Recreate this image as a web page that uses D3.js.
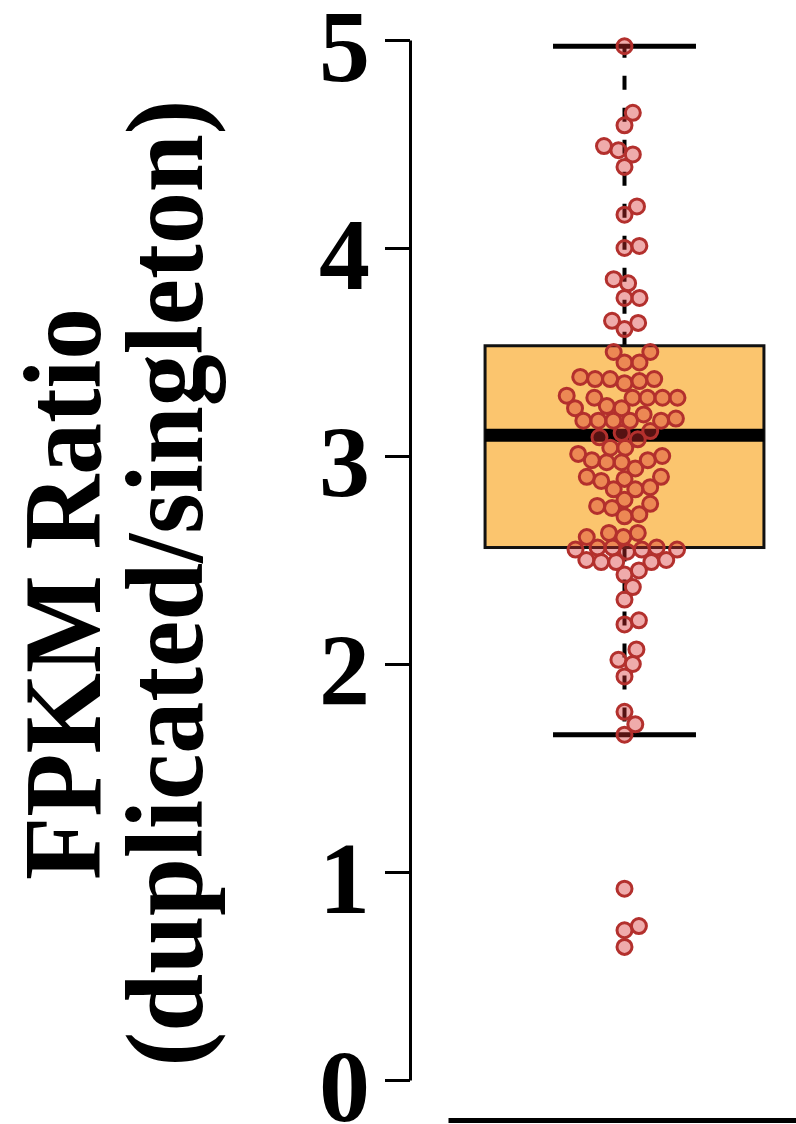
<!DOCTYPE html>
<html>
<head>
<meta charset="utf-8">
<script src="https://cdn.jsdelivr.net/npm/d3@7.9.0/dist/d3.min.js"></script>
<style>
  body { margin: 0; background: #fff; }
  svg { display: block; }
  text { font-family: "Liberation Serif", "Times New Roman", serif; font-weight: bold; }
</style>
</head>
<body>
<svg id="chart"></svg>
<script>
// data
const groups = ["ratio"];
const yTicks = [0, 1, 2, 3, 4, 5];
// [lower whisker, Q1, median, Q3, upper whisker]
const boxStats = [1.66, 2.56, 3.10, 3.53, 4.97];
const ratios = [
  4.97, 4.65, 4.59, 4.49, 4.47, 4.45, 4.39, 4.20, 4.16, 4.01, 4.00,
  3.85, 3.83, 3.76, 3.76, 3.65, 3.64, 3.61,
  3.50, 3.50, 3.45, 3.45, 3.38, 3.37, 3.37, 3.37, 3.36, 3.35,
  3.29, 3.28, 3.28, 3.28, 3.28, 3.28, 3.24, 3.23, 3.23, 3.20,
  3.18, 3.17, 3.17, 3.17, 3.17, 3.17, 3.12, 3.11,
  3.09, 3.08, 3.04, 3.04, 3.01, 3.00, 2.98, 2.98, 2.97, 2.97,
  2.94, 2.90, 2.90, 2.89, 2.88, 2.85, 2.84, 2.84, 2.79, 2.77,
  2.76, 2.75, 2.72, 2.71, 2.63, 2.63, 2.61, 2.61,
  2.56, 2.56, 2.56, 2.55, 2.55, 2.55, 2.54, 2.50, 2.50, 2.49, 2.49, 2.49,
  2.45, 2.43, 2.37, 2.31, 2.21, 2.19, 2.07, 2.02, 2.00, 1.94,
  1.77, 1.71, 1.66, 0.92, 0.74, 0.72, 0.64
];
const yLabel = ["FPKM Ratio", "(duplicated/singleton)"];

const width = 796, height = 1124;

const svg = d3.select("#chart")
    .attr("width", width)
    .attr("height", height);

const yScale = d3.scaleLinear().domain([0, 5]).range([1080, 40]);
const xScale = d3.scaleBand().domain(groups).range([448, 801]);

const cx = xScale(groups[0]) + xScale.bandwidth() / 2;
const boxW = xScale.bandwidth() * 0.79;
const capW = xScale.bandwidth() * 0.405;

// y axis
const yAxis = svg.append("g")
    .attr("transform", "translate(410,0)")
    .call(d3.axisLeft(yScale)
        .tickValues(yTicks)
        .tickFormat(d3.format("d"))
        .tickSize(25)
        .tickSizeOuter(0)
        .tickPadding(15));
yAxis.selectAll("path, line").attr("stroke", "#000").attr("stroke-width", 3);
yAxis.selectAll("text")
    .attr("fill", "#000")
    .attr("dy", "0.4em")
    .style("font-size", "102px")
    .style("font-family", "'Liberation Serif', 'Times New Roman', serif")
    .style("font-weight", "bold");

// x axis, just the baseline
const xAxis = svg.append("g")
    .attr("transform", "translate(0,1120)")
    .call(d3.axisBottom(xScale).tickValues([]).tickSizeOuter(0));
xAxis.select("path").attr("stroke", "#000").attr("stroke-width", 5);

// y label (two lines, rotated)
const labelPos = [[100, 594, 572], [202, 583, 967]];
yLabel.forEach((t, i) => {
    svg.append("text")
        .attr("transform", `translate(${labelPos[i][0]},${labelPos[i][1]}) rotate(-90)`)
        .attr("text-anchor", "middle")
        .attr("textLength", labelPos[i][2])
        .attr("lengthAdjust", "spacingAndGlyphs")
        .style("font-size", "110px")
        .attr("fill", "#000")
        .text(t);
});

// whiskers
const [wLo, q1, med, q3, wHi] = boxStats;
const g = svg.append("g");
[[q3, wHi], [q1, wLo]].forEach(([a, b]) => {
    g.append("line")
        .attr("x1", cx).attr("x2", cx)
        .attr("y1", yScale(a)).attr("y2", yScale(b))
        .attr("stroke", "#000").attr("stroke-width", 4)
        .attr("stroke-dasharray", "14,18");
    g.append("line")
        .attr("x1", cx - capW / 2).attr("x2", cx + capW / 2)
        .attr("y1", yScale(b)).attr("y2", yScale(b))
        .attr("stroke", "#000").attr("stroke-width", 5);
});

// box
g.append("rect")
    .attr("x", cx - boxW / 2)
    .attr("y", yScale(q3))
    .attr("width", boxW)
    .attr("height", yScale(q1) - yScale(q3))
    .attr("fill", "#fbc56e")
    .attr("stroke", "#111")
    .attr("stroke-width", 3);

g.append("line")
    .attr("x1", cx - boxW / 2).attr("x2", cx + boxW / 2)
    .attr("y1", yScale(med)).attr("y2", yScale(med))
    .attr("stroke", "#000").attr("stroke-width", 13);

// FUNCTION simple beeswarm layout (pixel space)
function swarm(values, d) {
    const placed = [];
    const pts = values.map(v => ({ v, y: yScale(v) })).sort((a, b) => a.v - b.v);
    pts.forEach(p => {
        const near = placed.filter(q => Math.abs(q.y - p.y) < d);
        const cands = [0];
        near.forEach(q => {
            const dx = Math.sqrt(d * d - (q.y - p.y) ** 2);
            cands.push(q.dx + dx, q.dx - dx);
        });
        cands.sort((a, b) => Math.abs(a) - Math.abs(b));
        p.dx = cands.find(c => near.every(q => (q.dx - c) ** 2 + (q.y - p.y) ** 2 >= d * d - 0.01));
        placed.push(p);
    });
    return placed;
}

const points = swarm(ratios, 15);

svg.append("g")
    .selectAll("circle")
    .data(points)
    .enter()
    .append("circle")
    .attr("cx", d => cx + d.dx)
    .attr("cy", d => d.y)
    .attr("r", 7.5)
    .attr("fill", "rgba(215,45,45,0.4)")
    .attr("stroke", "#b3302d")
    .attr("stroke-width", 3);
</script>
</body>
</html>
